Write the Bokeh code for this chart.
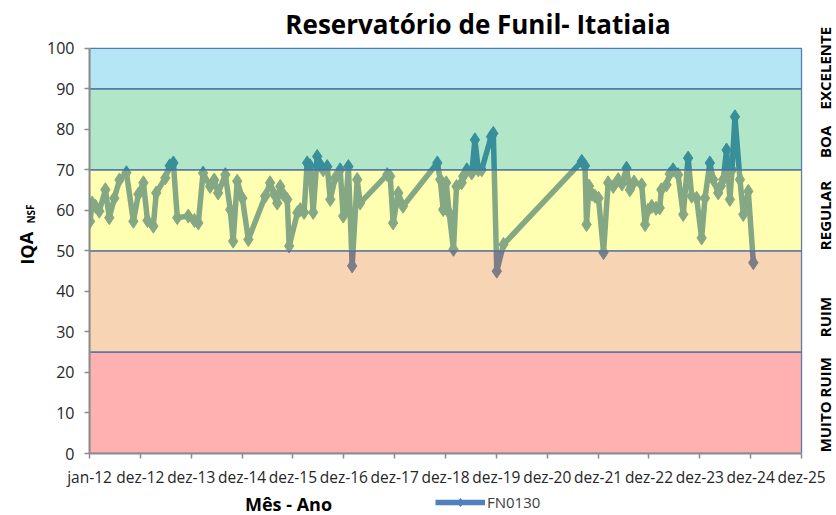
import pandas as pd
from bokeh.plotting import figure
from bokeh.layouts import row, column
from bokeh.models import Range1d, FixedTicker, Label, Legend, LegendItem
from bokeh.embed import file_html
from bokeh.resources import INLINE

# ---------------- data ----------------
dates = [
    "2012-01-05", "2012-01-20", "2012-02-13", "2012-03-11", "2012-04-24", "2012-05-22",
    "2012-06-27", "2012-08-03", "2012-09-22", "2012-11-11", "2012-12-17", "2013-01-22",
    "2013-02-20", "2013-04-03", "2013-04-24", "2013-06-28", "2013-07-30", "2013-08-25",
    "2013-09-22", "2013-12-10", "2014-01-23", "2014-02-20", "2014-03-26", "2014-05-16",
    "2014-06-14", "2014-07-12", "2014-09-02", "2014-10-07", "2014-10-28", "2014-11-26",
    "2015-01-02", "2015-02-14", "2015-06-15",
    "2015-07-20", "2015-08-18", "2015-09-09", "2015-10-01", "2015-10-22", "2015-11-20",
    "2015-12-04", "2016-02-01", "2016-02-22", "2016-03-20", "2016-04-11", "2016-05-02",
    "2016-05-24", "2016-06-22", "2016-07-13", "2016-08-04", "2016-09-02", "2016-09-24",
    "2016-10-29", "2016-12-04", "2016-12-26", "2017-01-10", "2017-02-01", "2017-02-28",
    "2017-04-05", "2017-04-26", "2017-11-07", "2017-11-28", "2017-12-19", "2018-01-25",
    "2018-02-28", "2018-11-01", "2018-11-22", "2018-12-13",
    "2019-01-04", "2019-01-25", "2019-02-25", "2019-03-19", "2019-04-25", "2019-05-06",
    "2019-06-01", "2019-07-06", "2019-07-29", "2019-08-22", "2019-09-16", "2019-11-22",
    "2019-12-08", "2020-01-02", "2020-02-19",
    "2021-09-03", "2021-09-26", "2021-10-07", "2021-10-25", "2021-11-16", "2021-12-07",
    "2022-01-01", "2022-02-06", "2022-03-11", "2022-04-17", "2022-05-22", "2022-06-18",
    "2022-07-21", "2022-08-14", "2022-09-13", "2022-11-07", "2022-12-01", "2022-12-22",
    "2023-01-18", "2023-02-18", "2023-03-16", "2023-03-28", "2023-05-04", "2023-05-27",
    "2023-06-20", "2023-07-26", "2023-09-01", "2023-10-06", "2023-11-01", "2023-12-06",
    "2024-01-11", "2024-02-04", "2024-03-10", "2024-04-03", "2024-05-09", "2024-05-28",
    "2024-06-14", "2024-07-08", "2024-08-01", "2024-08-16", "2024-09-06", "2024-10-12",
    "2024-11-05", "2024-12-11", "2025-01-16",
]
iqa_fn0130 = [
    57.3, 61.8, 61.0, 59.8, 65.1, 58.2,
    63.0, 67.5, 69.3, 57.3, 64.0, 66.8,
    57.5, 56.1, 64.3, 68.0, 71.0, 71.7,
    58.2, 58.6, 57.5, 56.9, 69.2, 65.9,
    67.5, 64.3, 68.8, 60.2, 52.4, 67.2,
    63.0, 52.8, 63.5,
    66.8, 64.0, 61.8, 65.9, 64.0, 62.7,
    51.2, 59.4, 60.2, 59.5, 71.7, 71.0,
    59.5, 73.3, 71.3, 70.0, 70.8, 62.7,
    68.0, 70.0, 58.6, 60.0, 70.8, 46.3,
    67.6, 61.8, 68.8, 68.4, 56.9, 64.3,
    61.0, 71.7, 67.6, 60.2,
    66.8, 59.4, 50.4, 65.9, 66.8, 68.4,
    70.0, 69.2, 77.4, 70.0, 70.0, 78.2,
    79.0, 45.0, 51.6,
    72.1, 71.0, 56.5, 66.0, 64.0, 63.5,
    63.0, 49.6, 66.8, 65.9, 67.6, 66.5,
    70.4, 65.1, 67.0, 66.3, 56.5, 60.0,
    61.0, 60.5, 60.6, 65.1, 66.3, 69.0,
    70.0, 68.8, 59.0, 72.9, 63.5, 63.0,
    53.2, 63.0, 71.7, 67.6, 64.3, 66.0,
    67.6, 74.9, 62.7, 70.0, 83.1, 67.6,
    59.0, 64.7, 47.1,
]
series_name = "FN0130"
title_text = "Reservatório de Funil- Itatiaia"
x_title = "Mês - Ano"
y_title = "IQA"
y_title_sub = "NSF"
x_tick_labels = ["jan-12", "dez-12", "dez-13", "dez-14", "dez-15", "dez-16", "dez-17",
                 "dez-18", "dez-19", "dez-20", "dez-21", "dez-22", "dez-23", "dez-24", "dez-25"]
y_ticks = [0, 10, 20, 30, 40, 50, 60, 70, 80, 90, 100]
band_names = ["MUITO RUIM", "RUIM", "REGULAR", "BOA", "EXCELENTE"]
band_lower = [0, 25, 50, 70, 90]
band_upper = [25, 50, 70, 90, 100]

# ---------------- styling / layout (pixels) ----------------
band_colors = ["#FF0000", "#E2740D", "#FFFF07", "#07AE4E", "#0DAEE2"]
band_alpha = 0.31
line_color = "#4F81BD"
text_color = "#262626"
FONT = "Open Sans"

TOTAL_W = 834
LEFT_W = 44                      # strip holding the y title
PLOT_L, PLOT_R = 88, 801         # plotting area (axes extent) in page pixels
PLOT_T, PLOT_B = 48, 455
MAIN_H, BOTTOM_H = 490, 25
band_label_py = [406, 318, 216, 142, 68]   # vertical centres of the class names
band_label_px = 824

start = pd.Timestamp("2012-01-01")
x_days = [(pd.Timestamp(d) - start).days for d in dates]
tick_pos = [365 * k for k in range(len(x_tick_labels))]
x_max, y_max = tick_pos[-1], 100

def sx(px):   # page pixel -> x data units (for text placement only)
    return (px - PLOT_L) / (PLOT_R - PLOT_L) * x_max

def sy(py):   # page pixel -> y data units (for text placement only)
    return (PLOT_B - py) / (PLOT_B - PLOT_T) * y_max


def strip(w, h):
    f = figure(width=w, height=h, output_backend="svg", toolbar_location=None,
               x_range=Range1d(0, w), y_range=Range1d(0, h),
               x_axis_location=None, y_axis_location=None,
               min_border=0, min_border_left=0, min_border_right=0,
               min_border_top=0, min_border_bottom=0)
    f.outline_line_color = None
    f.grid.visible = False
    return f


def add_label(fig, text, x, y, size, angle=0.0, bold=True, color="#000000"):
    fig.add_layout(Label(x=x, y=y, text=text, text_font=FONT, text_font_size=size,
                         text_font_style="bold" if bold else "normal",
                         text_color=color, text_align="center",
                         text_baseline="middle", angle=angle))


# ---- main plot: frame reaches the top and right edges, axes are bounded ----
p = figure(width=TOTAL_W - LEFT_W, height=MAIN_H, output_backend="svg", toolbar_location=None,
           x_range=Range1d(0, sx(TOTAL_W)), y_range=Range1d(0, sy(0)),
           min_border_left=PLOT_L - LEFT_W, min_border_right=0,
           min_border_top=0, min_border_bottom=MAIN_H - PLOT_B)
p.outline_line_color = None
p.grid.visible = False

p.line(x_days, iqa_fn0130, line_color=line_color, line_width=5.5, line_join="round")
p.scatter(x_days, iqa_fn0130, marker="diamond", size=14,
          fill_color=line_color, line_color=line_color)

# quality bands drawn over the series (semi-transparent)
p.quad(left=0, right=x_max, bottom=band_lower, top=band_upper,
       fill_color=band_colors, fill_alpha=band_alpha,
       line_color="#4E6FA6", line_alpha=0.9, line_width=1.3)

p.xaxis.ticker = FixedTicker(ticks=tick_pos)
p.xaxis.major_label_overrides = {t: lab for t, lab in zip(tick_pos, x_tick_labels)}
p.xaxis.bounds = (0, x_max)
p.yaxis.ticker = FixedTicker(ticks=y_ticks)
p.yaxis.bounds = (0, y_max)
for ax in (p.xaxis, p.yaxis):
    ax.axis_line_color = "#8C8C8C"
    ax.axis_line_width = 2
    ax.major_tick_line_color = "#8C8C8C"
    ax.major_tick_line_width = 1.5
    ax.major_tick_out = 5
    ax.major_tick_in = 0
    ax.minor_tick_out = 0
    ax.minor_tick_in = 0
    ax.major_label_text_font = FONT
    ax.major_label_text_color = text_color
p.xaxis.major_label_text_font_size = "15.5px"
p.xaxis.major_label_standoff = 7
p.yaxis.major_label_text_font_size = "16px"
p.yaxis.major_label_standoff = 10

# title and class names
add_label(p, title_text, sx(477), sy(24), "26px")
for name, py in zip(band_names, band_label_py):
    add_label(p, name, sx(band_label_px), sy(py), "15px", angle=1.5708)

# ---- left strip: y title with subscript ----
left = strip(LEFT_W, MAIN_H)
add_label(left, y_title, 26, MAIN_H - 268, "18px", angle=1.5708)
add_label(left, y_title_sub, 30, MAIN_H - 231, "10px", angle=1.5708)

# ---- bottom strip: x title + legend ----
bottom = strip(TOTAL_W, BOTTOM_H)
add_label(bottom, x_title, 288, 12, "18px")
# legend proxies: same series and style (values lie above this strip's range, so unseen)
leg_line = bottom.line(x_days, iqa_fn0130, line_color=line_color, line_width=5.5)
leg_pts = bottom.scatter(x_days, iqa_fn0130, marker="diamond", size=13,
                         fill_color=line_color, line_color=line_color)
legend = Legend(items=[LegendItem(label=series_name, renderers=[leg_line, leg_pts])],
                location=(435, 3), orientation="horizontal",
                glyph_width=50, glyph_height=20, label_height=20,
                label_text_font=FONT, label_text_font_size="15px",
                label_text_color="#404040", label_standoff=2,
                padding=0, margin=0, spacing=0,
                border_line_color=None, background_fill_alpha=0)
bottom.add_layout(legend)

layout = column(row(left, p), bottom)
open("out.html", "w").write(file_html(layout, INLINE))
